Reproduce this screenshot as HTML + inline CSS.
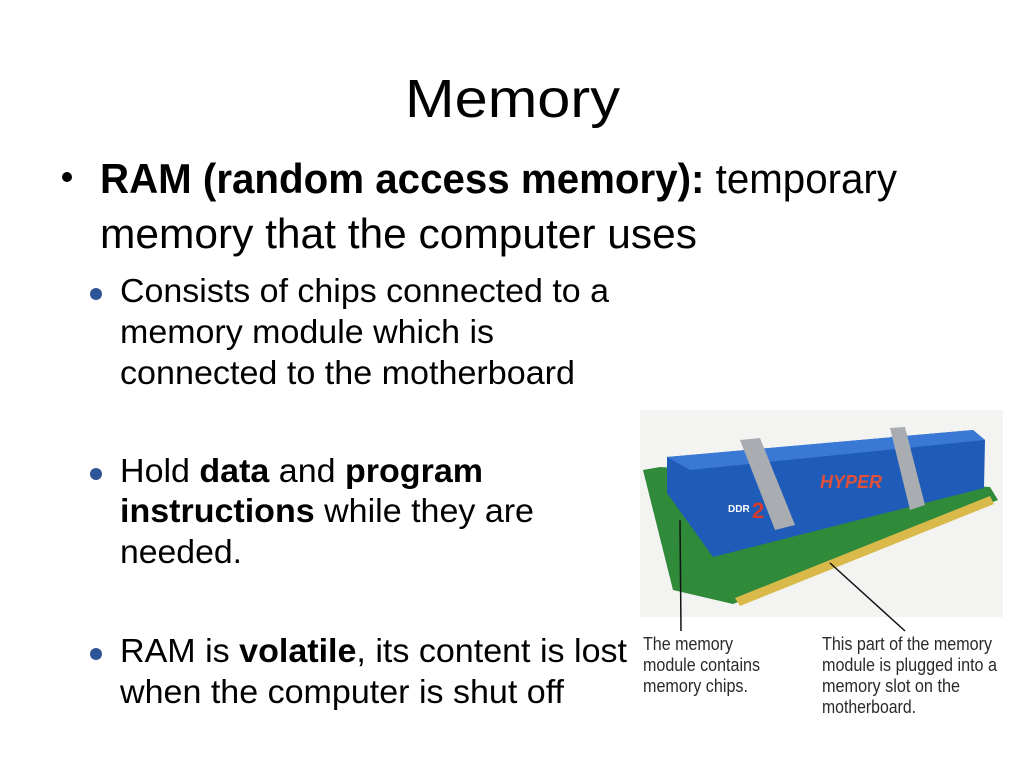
<!DOCTYPE html>
<html><head><meta charset="utf-8"><style>
html,body{margin:0;padding:0;background:#fff;}
svg{display:block;}
</style></head><body>
<svg width="1024" height="768" viewBox="0 0 1024 768" xmlns="http://www.w3.org/2000/svg">
<rect width="1024" height="768" fill="#fff"/>
<g font-family="Liberation Sans, sans-serif" fill="#000">
<text x="405" y="117" font-size="54" textLength="215" lengthAdjust="spacingAndGlyphs">Memory</text>
<circle cx="67" cy="177" r="5" fill="#000"/>
<text x="100" y="193" font-size="42" textLength="797" lengthAdjust="spacingAndGlyphs"><tspan font-weight="bold">RAM (random access memory):</tspan> temporary</text>
<text x="100" y="248" font-size="42" textLength="597" lengthAdjust="spacingAndGlyphs">memory that the computer uses</text>
<g fill="#2c5496"><circle cx="96" cy="294" r="6"/><circle cx="96" cy="474" r="6"/><circle cx="96" cy="654" r="6"/></g>
<g font-size="33">
<text x="120" y="302" textLength="489" lengthAdjust="spacingAndGlyphs">Consists of chips connected to a</text>
<text x="120" y="343" textLength="374" lengthAdjust="spacingAndGlyphs">memory module which is</text>
<text x="120" y="384" textLength="455" lengthAdjust="spacingAndGlyphs">connected to the motherboard</text>
<text x="120" y="482" textLength="363" lengthAdjust="spacingAndGlyphs">Hold <tspan font-weight="bold">data</tspan> and <tspan font-weight="bold">program</tspan></text>
<text x="120" y="522" textLength="414" lengthAdjust="spacingAndGlyphs"><tspan font-weight="bold">instructions</tspan> while they are</text>
<text x="120" y="563" textLength="122" lengthAdjust="spacingAndGlyphs">needed.</text>
<text x="120" y="662" textLength="507" lengthAdjust="spacingAndGlyphs">RAM is <tspan font-weight="bold">volatile</tspan>, its content is lost</text>
<text x="120" y="703" textLength="444" lengthAdjust="spacingAndGlyphs">when the computer is shut off</text>
</g>
</g>
<!-- photo -->
<rect x="640" y="410" width="363" height="207" fill="#f3f3f1"/>
<polygon points="643,470 660,467 990,487 998,500 733,604 673,590" fill="#2f8a3a"/>
<polygon points="735,598 990,496 994,504 740,606" fill="#d9b94a"/>
<polygon points="667,457 973,430 985,440 984,488 713,557 667,493" fill="#1f5bb8"/>
<polygon points="667,457 973,430 985,440 690,470" fill="#3a78d6"/>
<polygon points="740,440 760,438 795,525 775,530" fill="#a9acb0"/>
<polygon points="890,428 905,427 925,505 910,510" fill="#a9acb0"/>
<text x="820" y="488" font-family="Liberation Sans, sans-serif" font-size="18" font-weight="bold" fill="#e0503a" font-style="italic">HYPER</text>
<text x="728" y="512" font-family="Liberation Sans, sans-serif" font-size="10" font-weight="bold" fill="#fff">DDR</text>
<text x="752" y="518" font-family="Liberation Sans, sans-serif" font-size="22" font-weight="bold" fill="#d83a2a">2</text>
<line x1="680" y1="520" x2="681" y2="631" stroke="#111" stroke-width="1.5"/>
<line x1="830" y1="563" x2="905" y2="631" stroke="#111" stroke-width="1.5"/>
<g font-family="Liberation Sans, sans-serif" font-size="18" fill="#2a2a2a">
<text x="643" y="650" textLength="90" lengthAdjust="spacingAndGlyphs">The memory</text>
<text x="643" y="671" textLength="117" lengthAdjust="spacingAndGlyphs">module contains</text>
<text x="643" y="692" textLength="105" lengthAdjust="spacingAndGlyphs">memory chips.</text>
<text x="822" y="650" textLength="170" lengthAdjust="spacingAndGlyphs">This part of the memory</text>
<text x="822" y="671" textLength="175" lengthAdjust="spacingAndGlyphs">module is plugged into a</text>
<text x="822" y="692" textLength="138" lengthAdjust="spacingAndGlyphs">memory slot on the</text>
<text x="822" y="713" textLength="94" lengthAdjust="spacingAndGlyphs">motherboard.</text>
</g>
</svg>
</body></html>
